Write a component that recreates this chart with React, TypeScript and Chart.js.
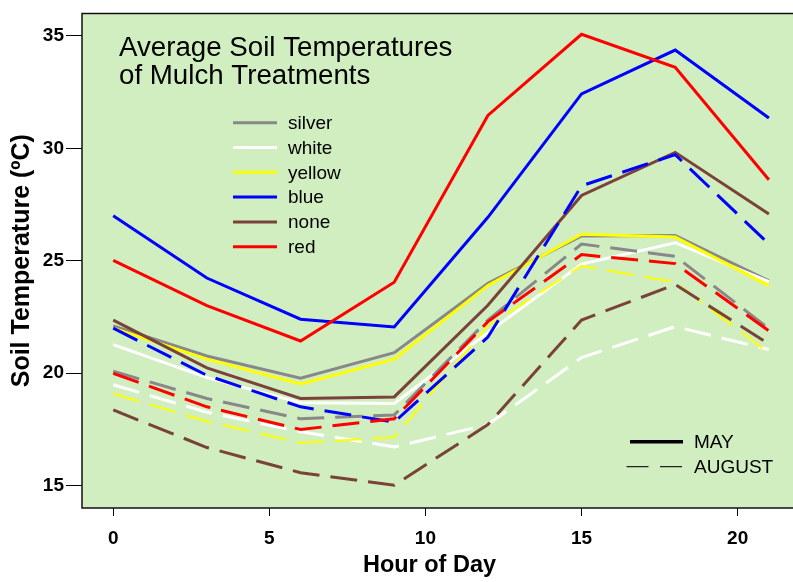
import { useEffect, useRef } from 'react';
import { Chart, registerables } from 'chart.js';

Chart.register(...registerables);

const hours = [0, 3, 6, 9, 12, 15, 18, 21];
const treatments = ['silver', 'white', 'yellow', 'blue', 'none', 'red'];
const treatmentColors = ['#888888', '#ffffff', '#ffff00', '#0000ff', '#7a4238', '#ff0000'];

// MAY (solid)
const maySilver = [22.1, 20.76, 19.77, 20.91, 24.0, 26.1, 26.12, 24.1];
const mayWhite = [21.27, 19.8, 18.68, 18.65, 21.8, 24.85, 25.8, 24.07];
const mayYellow = [22.0, 20.62, 19.52, 20.62, 23.9, 26.18, 26.05, 23.89];
const mayBlue = [27.0, 24.23, 22.4, 22.05, 26.93, 32.42, 34.37, 31.35];
const mayNone = [22.36, 20.23, 18.87, 18.94, 23.02, 27.9, 29.82, 27.08];
const mayRed = [25.01, 23.0, 21.43, 24.04, 31.46, 35.07, 33.6, 28.6];

// AUGUST (dashed)
const augSilver = [20.08, 18.87, 17.97, 18.14, 22.36, 25.74, 25.2, 21.98];
const augWhite = [19.48, 18.26, 17.39, 16.72, 17.71, 20.69, 22.07, 21.05];
const augYellow = [19.09, 17.85, 16.9, 17.15, 22.1, 24.77, 24.04, 20.9];
const augBlue = [22.0, 19.9, 18.5, 17.82, 21.6, 28.33, 29.72, 25.74];
const augNone = [18.36, 16.69, 15.57, 15.01, 17.71, 22.36, 23.94, 21.3];
const augRed = [19.99, 18.5, 17.49, 17.97, 22.29, 25.27, 24.87, 21.88];

const maySeries = [maySilver, mayWhite, mayYellow, mayBlue, mayNone, mayRed];
const augSeries = [augSilver, augWhite, augYellow, augBlue, augNone, augRed];
const augWidths = [3, 3, 2, 3, 3, 3];

const xTicks = [0, 5, 10, 15, 20];
const yTicks = [15, 20, 25, 30, 35];
const chartTitle = ['Average Soil Temperatures', 'of Mulch Treatments'];
const xTitle = 'Hour of Day';
const yTitle = 'Soil Temperature (ºC)';
const monthLabels = ['MAY', 'AUGUST'];

const FONT = "'Liberation Sans', Arial, Helvetica, sans-serif";
const PLOT_BG = '#d0eec0';

const decorPlugin = {
  id: 'decor',
  beforeDatasetsDraw(chart: any) {
    const { ctx, chartArea } = chart;
    ctx.save();
    ctx.fillStyle = PLOT_BG;
    ctx.fillRect(chartArea.left, chartArea.top, chart.width - chartArea.left, chartArea.bottom - chartArea.top);
    ctx.restore();
  },
  afterDatasetsDraw(chart: any) {
    const { ctx, chartArea } = chart;
    ctx.save();
    // frame
    ctx.strokeStyle = '#111111';
    ctx.lineWidth = 1.5;
    ctx.beginPath();
    ctx.moveTo(chart.width, chartArea.top);
    ctx.lineTo(chartArea.left, chartArea.top);
    ctx.lineTo(chartArea.left, chartArea.bottom);
    ctx.lineTo(chart.width, chartArea.bottom);
    ctx.stroke();

    // title
    ctx.fillStyle = '#000000';
    ctx.font = `27.7px ${FONT}`;
    ctx.textAlign = 'left';
    ctx.textBaseline = 'alphabetic';
    ctx.fillText(chartTitle[0], 119, 56);
    ctx.fillText(chartTitle[1], 119, 83.5);

    // treatment legend
    ctx.font = `19px ${FONT}`;
    ctx.textBaseline = 'middle';
    treatments.forEach((name, i) => {
      const y = 122.7 + i * 24.8;
      ctx.strokeStyle = treatmentColors[i];
      ctx.lineWidth = 3;
      ctx.setLineDash([]);
      ctx.beginPath();
      ctx.moveTo(233, y);
      ctx.lineTo(277, y);
      ctx.stroke();
      ctx.fillStyle = '#000000';
      ctx.fillText(name, 288, y + 1);
    });

    // month legend
    ctx.strokeStyle = '#000000';
    ctx.lineWidth = 3.5;
    ctx.beginPath();
    ctx.moveTo(630, 441.7);
    ctx.lineTo(683, 441.7);
    ctx.stroke();
    ctx.lineWidth = 1.3;
    ctx.strokeStyle = '#222222';
    ctx.setLineDash([22, 11.5]);
    ctx.beginPath();
    ctx.moveTo(626.5, 466.7);
    ctx.lineTo(683.5, 466.7);
    ctx.stroke();
    ctx.setLineDash([]);
    ctx.fillStyle = '#000000';
    ctx.fillText(monthLabels[0], 694, 442.5);
    ctx.fillText(monthLabels[1], 694, 467.5);
    ctx.restore();
  },
};

export default function App() {
  const canvasRef = useRef<HTMLCanvasElement | null>(null);

  useEffect(() => {
    const canvas = canvasRef.current;
    if (!canvas) return;
    const n = treatments.length;
    const toPoints = (vals: number[]) => hours.map((h, i) => ({ x: h, y: vals[i] }));
    const datasets: any[] = [];
    maySeries.forEach((vals, i) => {
      datasets.push({
        label: `MAY ${treatments[i]}`,
        data: toPoints(vals),
        borderColor: treatmentColors[i],
        borderWidth: 3,
        pointRadius: 0,
        tension: 0,
        fill: false,
        order: 2 * n - i,
      });
    });
    augSeries.forEach((vals, i) => {
      datasets.push({
        label: `AUGUST ${treatments[i]}`,
        data: toPoints(vals),
        borderColor: treatmentColors[i],
        borderWidth: augWidths[i],
        borderDash: [27, 11],
        pointRadius: 0,
        tension: 0,
        fill: false,
        order: n - i,
      });
    });

    const chart = new Chart(canvas, {
      type: 'line',
      data: { datasets },
      plugins: [decorPlugin],
      options: {
        animation: false,
        responsive: false,
        maintainAspectRatio: false,
        layout: { padding: { top: 5, right: 16, left: 0, bottom: 0 } },
        plugins: {
          legend: { display: false },
          tooltip: { enabled: false },
          title: { display: false },
        },
        scales: {
          x: {
            type: 'linear',
            min: -1,
            max: 21.26,
            afterFit: (scale: any) => {
              scale.height = 74;
            },
            afterBuildTicks: (scale: any) => {
              scale.ticks = xTicks.map((v) => ({ value: v }));
            },
            border: { display: false },
            grid: {
              display: true,
              drawOnChartArea: false,
              drawTicks: true,
              tickLength: 8,
              color: '#000000',
              lineWidth: 1,
            },
            ticks: {
              color: '#000000',
              font: { family: FONT, size: 19, weight: 'bold' },
              padding: 11,
              maxRotation: 0,
            },
            title: {
              display: true,
              text: xTitle,
              color: '#000000',
              font: { family: FONT, size: 23.5, weight: 'bold' },
              padding: { top: 0, bottom: 2 },
            },
          },
          y: {
            type: 'linear',
            min: 14,
            max: 36,
            afterFit: (scale: any) => {
              scale.width = 82;
            },
            afterBuildTicks: (scale: any) => {
              scale.ticks = yTicks.map((v) => ({ value: v }));
            },
            border: { display: false },
            grid: {
              display: true,
              drawOnChartArea: false,
              drawTicks: true,
              tickLength: 16,
              color: '#000000',
              lineWidth: 1,
            },
            ticks: {
              color: '#000000',
              font: { family: FONT, size: 19, weight: 'bold' },
              padding: 2,
            },
            title: {
              display: true,
              text: yTitle,
              color: '#000000',
              font: { family: FONT, size: 25, weight: 'bold' },
              padding: { top: 7, bottom: 0 },
            },
          },
        },
      },
    } as any);
    return () => chart.destroy();
  }, []);

  return (
    <div style={{ position: 'fixed', left: 0, top: 0, width: 793, height: 582, background: '#ffffff' }}>
      <canvas ref={canvasRef} width={793} height={582} style={{ display: 'block', width: 793, height: 582 }} />
    </div>
  );
}
